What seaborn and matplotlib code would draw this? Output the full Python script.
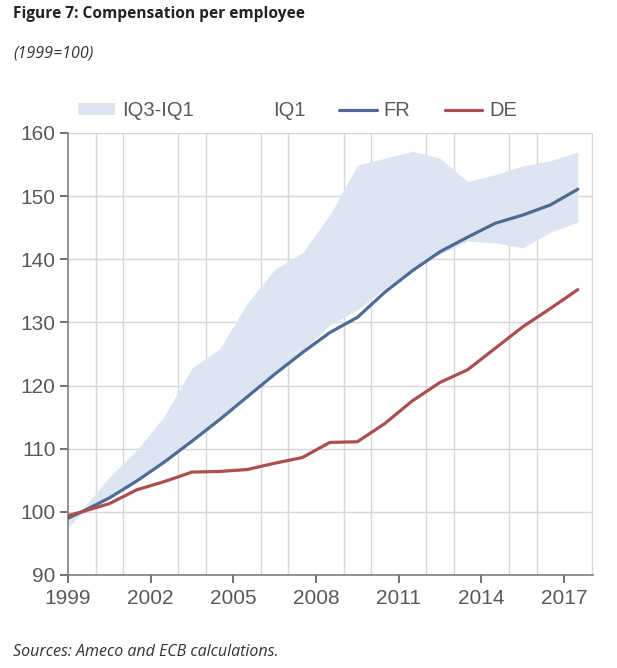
import numpy as np
import pandas as pd
import matplotlib
matplotlib.use("Agg")
import matplotlib.pyplot as plt
import seaborn as sns
from matplotlib.lines import Line2D
from matplotlib.patches import Patch

# ---- data ----
years = [1999.0, 1999.5, 2000.5, 2001.5, 2002.5, 2003.5, 2004.5, 2005.5, 2006.5, 2007.5,
         2008.5, 2009.5, 2010.5, 2011.5, 2012.5, 2013.5, 2014.5, 2015.5, 2016.5, 2017.5]
fr = [99.0, 100.0, 102.2, 104.9, 107.9, 111.2, 114.6, 118.2, 121.8, 125.2,
      128.4, 130.8, 134.8, 138.2, 141.2, 143.5, 145.7, 147.0, 148.6, 151.1]
de = [99.4, 100.0, 101.3, 103.5, 104.8, 106.3, 106.4, 106.7, 107.7, 108.6,
      111.0, 111.1, 114.0, 117.6, 120.5, 122.5, 125.9, 129.3, 132.2, 135.2]
iq3 = [99.4, 100.3, 105.5, 109.8, 115.2, 122.8, 125.8, 133.0, 138.4, 141.0,
       147.0, 154.9, 156.0, 157.1, 156.0, 152.3, 153.4, 154.8, 155.6, 157.0]
iq1 = [97.5, 99.8, 102.1, 104.9, 107.9, 111.2, 114.6, 118.2, 121.8, 125.4,
       129.6, 132.0, 135.4, 138.6, 140.8, 142.9, 142.6, 141.8, 144.3, 145.9]
xtick_labels = ["1999", "2002", "2005", "2008", "2011", "2014", "2017"]
legend_labels = ["IQ3-IQ1", "IQ1", "FR", "DE"]

df = pd.DataFrame({"year": years * 2, "value": fr + de,
                   "country": ["FR"] * len(years) + ["DE"] * len(years)})

sns.set_style("white")
plt.rcParams["font.family"] = ["Liberation Sans", "DejaVu Sans"]

fig = plt.figure(figsize=(6.17, 6.68), dpi=100)
ax = fig.add_axes([68 / 617, 1 - 575 / 668, (593 - 68) / 617, (575 - 133) / 668])

band_color = "#dce5f1"
fr_color = "#4d6b94"
de_color = "#ab4e4d"
text_gray = "#595959"

ax.fill_between(years, iq1, iq3, color=band_color, linewidth=0, zorder=1)
sns.lineplot(data=df, x="year", y="value", hue="country",
             palette={"FR": fr_color, "DE": de_color}, linewidth=2.3,
             ax=ax, legend=False, zorder=3)

ax.set_xlim(1999, 2018.05)
ax.set_ylim(90, 160)
ax.set_xticks([int(t) for t in xtick_labels])
ax.set_xticklabels(xtick_labels)
ax.set_xticks(np.arange(1999, 2019), minor=True)
ax.set_yticks(np.arange(90, 161, 10))
ax.set_xlabel("")
ax.set_ylabel("")

ax.grid(True, which="major", axis="y", color="#d6d6dc", linewidth=1.0, zorder=0)
ax.grid(True, which="minor", axis="x", color="#d6d6dc", linewidth=1.0, zorder=0)
ax.set_axisbelow(True)

for s in ["top", "right"]:
    ax.spines[s].set_visible(False)
for s in ["left", "bottom"]:
    ax.spines[s].set_color("#7f7f7f")
    ax.spines[s].set_linewidth(1.2)

ax.tick_params(axis="both", which="major", labelsize=15, colors=text_gray,
               length=6, width=1.2, direction="out")
ax.tick_params(axis="x", which="major", pad=4, bottom=True)
ax.tick_params(axis="y", which="major", pad=3, left=True)
ax.tick_params(axis="x", which="minor", length=0)
for lbl in ax.get_xticklabels() + ax.get_yticklabels():
    lbl.set_color(text_gray)

handles = [Patch(facecolor=band_color, edgecolor="none"),
           Patch(facecolor="white", edgecolor="none"),
           Line2D([0], [0], color=fr_color, lw=2.3),
           Line2D([0], [0], color=de_color, lw=2.3)]
leg = fig.legend(handles, legend_labels, loc="center left",
                 bbox_to_anchor=(70 / 617, 1 - 111 / 668), ncol=4, frameon=False,
                 fontsize=14.5, handlelength=1.85, handleheight=0.55,
                 handletextpad=0.35, columnspacing=1.7, borderaxespad=0)
for t in leg.get_texts():
    t.set_color(text_gray)

fig.text(13 / 617, 1 - 14 / 668, "Figure 7: Compensation per employee",
         fontsize=11.2, fontweight="bold", family=["Open Sans", "DejaVu Sans"],
         color="#222222", va="center", ha="left")
fig.text(13 / 617, 1 - 53 / 668, "(1999=100)", fontsize=11.5, style="italic",
         family=["Open Sans", "DejaVu Sans"], color="#333333", va="center", ha="left")
fig.text(13 / 617, 1 - 652 / 668, "Sources: Ameco and ECB calculations.",
         fontsize=11.5, style="italic", family=["Open Sans", "DejaVu Sans"],
         color="#333333", va="center", ha="left")

fig.savefig("out.png", dpi=100, facecolor="white")
